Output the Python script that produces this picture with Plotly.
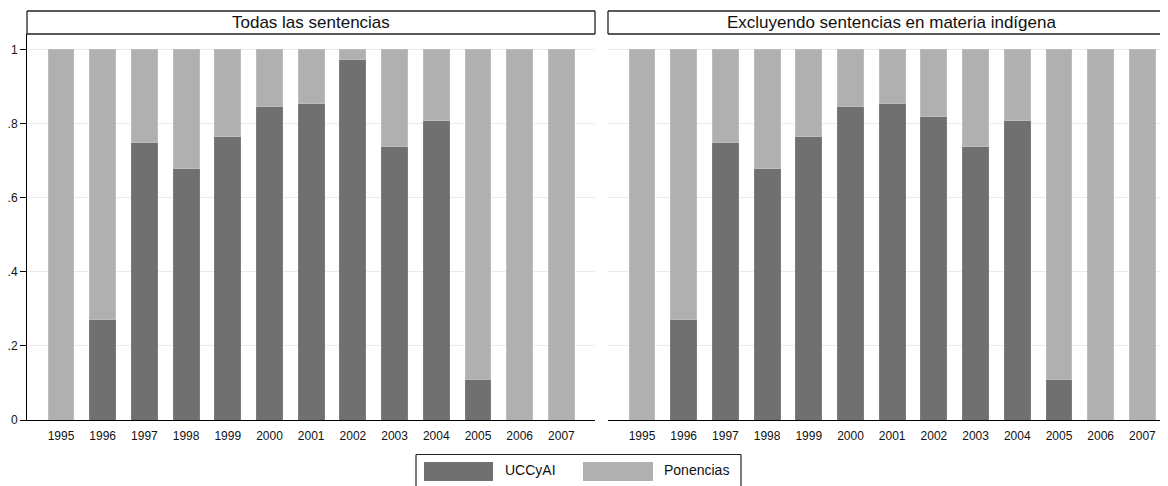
import plotly.graph_objects as go

years = ["1995", "1996", "1997", "1998", "1999", "2000", "2001",
         "2002", "2003", "2004", "2005", "2006", "2007"]
uccyai_all = [0, 0.27, 0.75, 0.68, 0.765, 0.845, 0.854, 0.972, 0.739, 0.809, 0.11, 0, 0]
ponencias_all = [1, 0.73, 0.25, 0.32, 0.235, 0.155, 0.146, 0.028, 0.261, 0.191, 0.89, 1, 1]
uccyai_excl = [0, 0.27, 0.75, 0.68, 0.765, 0.845, 0.854, 0.818, 0.739, 0.809, 0.11, 0, 0]
ponencias_excl = [1, 0.73, 0.25, 0.32, 0.235, 0.155, 0.146, 0.182, 0.261, 0.191, 0.89, 1, 1]
panel_titles = ["Todas las sentencias", "Excluyendo sentencias en materia indígena"]
series_names = ["UCCyAI", "Ponencias"]
y_ticks = [0, 0.2, 0.4, 0.6, 0.8, 1]
y_ticktext = ["0", ".2", ".4", ".6", ".8", "1"]

DARK = "#707070"
LIGHT = "#b0b0b0"
FONT = "Liberation Sans, Arial, sans-serif"

# the page body adds an 8px margin; target screen coords are shifted by OFF
OFF = 8
W, H = 1168, 486
# target screen pixels: plot left 27, top 34, bottom 420; right panel ends at 1176 (cropped)
ML = 27 - OFF
MT = 34 - OFF
MB = H - (420 - OFF)
MR = 0
PW = W - ML - MR
PH = H - MT - MB

def px_x(p):
    return (p - OFF - ML) / PW

def px_y(p):
    return (H - MB - (p - OFF)) / PH

fig = go.Figure()
bw = 0.62
for i, (u, pn) in enumerate([(uccyai_all, ponencias_all), (uccyai_excl, ponencias_excl)]):
    xa = "x" if i == 0 else "x2"
    ya = "y" if i == 0 else "y2"
    fig.add_trace(go.Bar(x=years, y=u, name=series_names[0], marker=dict(color=DARK, line=dict(color="#7c7c7c", width=1)),
                         width=bw, xaxis=xa, yaxis=ya, showlegend=False))
    fig.add_trace(go.Bar(x=years, y=pn, name=series_names[1], marker=dict(color=LIGHT, line=dict(color="#bdbdbd", width=1)),
                         width=bw, xaxis=xa, yaxis=ya, showlegend=False))

d1 = [0, px_x(595)]
d2 = [px_x(608), 1]
spacing = 41.7
pad = 0.815
r1 = [-pad, -pad + (595 - 27) / spacing]
r2 = [-pad, -pad + (W + OFF - 608) / spacing]
xcommon = dict(type="category", showline=True, linecolor="black", linewidth=1, showgrid=False,
               ticks="outside", ticklen=5, tickcolor="rgba(0,0,0,0)",
               tickfont=dict(family=FONT, size=12, color="#111"), zeroline=False, fixedrange=True)
ycommon = dict(range=[0, 1.042], tickvals=y_ticks, showgrid=True, gridcolor="#ebebeb", gridwidth=1,
               zeroline=False, fixedrange=True)

fig.update_layout(
    barmode="stack",
    width=W, height=H,
    margin=dict(l=ML, r=MR, t=MT, b=MB, pad=0),
    paper_bgcolor="white", plot_bgcolor="white",
    font=dict(family=FONT, color="#111"),
    xaxis=dict(domain=d1, range=r1, anchor="y", **xcommon),
    xaxis2=dict(domain=d2, range=r2, anchor="y2", **xcommon),
    yaxis=dict(anchor="x", ticktext=y_ticktext, showline=True, linecolor="black", linewidth=1,
               ticks="outside", ticklen=6, tickcolor="black",
               tickfont=dict(family=FONT, size=12, color="#111"), **ycommon),
    yaxis2=dict(anchor="x2", showticklabels=False, showline=False, ticks="", **ycommon),
)

shapes = []
annotations = []
# panel header strips
ytop, ybot = px_y(11), px_y(34)
for (x0p, x1p), title, closed in [((27, 595), panel_titles[0], True), ((608, W + OFF), panel_titles[1], False)]:
    x0, x1 = px_x(x0p), px_x(x1p)
    lc = dict(color="#222", width=1.3)
    shapes.append(dict(type="line", xref="paper", yref="paper", x0=x0, x1=x1, y0=ytop, y1=ytop, line=lc))
    shapes.append(dict(type="line", xref="paper", yref="paper", x0=x0, x1=x1, y0=ybot, y1=ybot, line=lc))
    shapes.append(dict(type="line", xref="paper", yref="paper", x0=x0, x1=x0, y0=ytop, y1=ybot, line=lc))
    if closed:
        shapes.append(dict(type="line", xref="paper", yref="paper", x0=x1, x1=x1, y0=ytop, y1=ybot, line=lc))
    cx = (px_x(x0p) + px_x(x0p + 568)) / 2
    annotations.append(dict(text=title, xref="paper", yref="paper", x=cx, y=(ytop + ybot) / 2,
                            showarrow=False, xanchor="center", yanchor="middle",
                            font=dict(family=FONT, size=17, color="#111")))

# legend (drawn manually)
lgc = dict(color="#222", width=1.2)
lt, lb = px_y(454.5), px_y(H + OFF + 4)
shapes.append(dict(type="line", xref="paper", yref="paper", x0=px_x(416), x1=px_x(741), y0=lt, y1=lt, line=lgc))
shapes.append(dict(type="line", xref="paper", yref="paper", x0=px_x(416), x1=px_x(416), y0=lt, y1=lb, line=lgc))
shapes.append(dict(type="line", xref="paper", yref="paper", x0=px_x(741), x1=px_x(741), y0=lt, y1=lb, line=lgc))
for sx0, sx1, col, tx, name in [(424, 493, DARK, 503, series_names[0]), (583, 653, LIGHT, 662, series_names[1])]:
    shapes.append(dict(type="rect", xref="paper", yref="paper", x0=px_x(sx0), x1=px_x(sx1),
                       y0=px_y(481), y1=px_y(462), fillcolor=col, line=dict(width=0)))
    annotations.append(dict(text=name, xref="paper", yref="paper", x=px_x(tx), y=px_y(470),
                            showarrow=False, xanchor="left", yanchor="middle",
                            font=dict(family=FONT, size=14, color="#111")))

fig.update_layout(shapes=shapes, annotations=annotations)
fig.write_html("out.html")
